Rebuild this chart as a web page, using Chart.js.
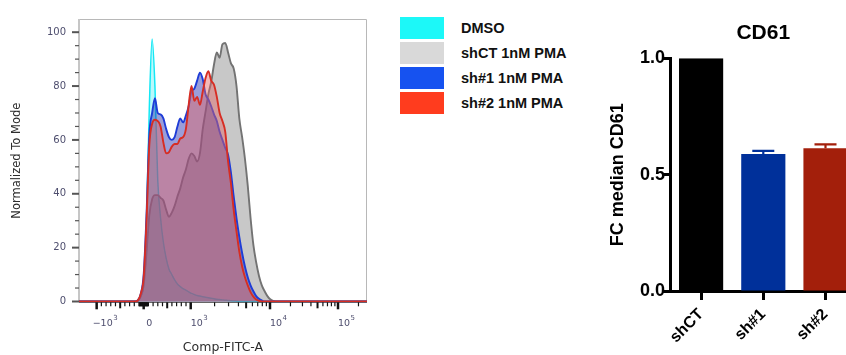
<!DOCTYPE html>
<html><head><meta charset="utf-8">
<script src="https://cdn.jsdelivr.net/npm/chart.js@4.4.0/dist/chart.umd.min.js"></script>
<style>
html,body{margin:0;padding:0;background:#fff;width:846px;height:355px;overflow:hidden;}
#histWrap{position:absolute;left:0;top:0;width:380px;height:355px;}
#barWrap{position:absolute;left:600px;top:0;width:246px;height:355px;overflow:hidden;}
#legend{position:absolute;left:400px;top:17px;font:bold 14.5px "Liberation Sans",Arial,sans-serif;color:#111;}
.item{position:relative;height:25px;width:200px;}
.sw{position:absolute;left:0;top:0;width:44px;height:22px;}
.tx{position:absolute;left:61px;top:0;line-height:22px;white-space:nowrap;}
</style></head>
<body>
<div id="histWrap"><canvas id="hist" width="380" height="355"></canvas></div>
<div id="legend"></div>
<div id="barWrap"><canvas id="bar" width="324" height="355"></canvas></div>
<script>
// ---------- histogram data (x in display channels 0..1024, y = % of mode) ----------
const histChannels = [0,200,210,220,230,240,250,260,270,280,290,300,310,320,330,340,350,360,370,380,390,400,410,420,430,440,450,460,470,480,490,500,510,520,530,540,550,560,570,580,590,600,610,620,630,640,650,660,670,680,690,700,1024];
const dmso = [0,0,0.3,2,7,30,72,97.5,80,45,31,22,16,12,10,8,6.5,5.5,4.8,4.2,3.6,3,2.6,2.2,2,1.8,1.6,1.4,1.2,1,0.8,0.7,0.6,0.5,0.4,0.3,0.2,0.1,0,0,0,0,0,0,0,0,0,0,0,0,0,0,0];
const shCT = [0,0,0.3,2,6,18,32,38,39.5,39.5,38.5,37.5,34,31.5,33,35.5,39,42,46,49,53,55,54,52,55,64,70.5,77,81.5,88,92.5,90.5,95.5,96,92.5,88.5,86.5,80,68,61,53,43,31,21,14.5,9.5,6,3.8,2,0.8,0.2,0,0];
const sh1 = [0,0,0.5,3,10,32,62,70,75.5,70,69.5,68,64,61,60,61,65,68,66.5,69,72.5,78,79,82,85,82.5,77,75,72.5,69.5,67,63,60,57,54.5,48,39,31,24,18,13,9,6,3.8,2,1,0.4,0,0,0,0,0,0];
const sh2 = [0,0,0.5,3,9,30,58,66,67.5,67,65,59,55,55.5,57.5,58.5,58.5,60.5,61,64,73,80,74.5,76,73,78,83,85.5,82,80.5,76,70,67,63,52,44,34,26,18.5,13,9,6,3.5,1.8,0.7,0.2,0,0,0,0,0,0,0];
const seriesLabels = ['DMSO','shCT 1nM PMA','sh#1 1nM PMA','sh#2 1nM PMA'];
const histYTicks = [0,20,40,60,80,100];
const histXMajor = [-1000,0,1000,10000,100000];
const histXLabels = [['\u221210','3'],['0',''],['10','3'],['10','4'],['10','5']];

// ---------- bar chart data ----------
const barLabels = ['shCT','sh#1','sh#2'];
const barMeans = [1.0,0.589,0.613];
const barErrors = [0,0.013,0.017];
const barYTicks = [0,0.5,1.0];

// ---------- styles ----------
const legendColors = ['#1cf8f8','#d9d9d9','#1652f0','#ff3c1e'];
const lineColors = ['rgb(20,232,245)','rgb(115,115,115)','rgb(30,60,215)','rgb(215,45,35)'];
const fillColors = ['rgba(40,232,242,0.32)','rgba(118,118,118,0.40)','rgba(30,40,170,0.45)','rgba(228,101,103,0.45)'];
const barColors = ['#000000','#00309a','#a31f0b'];

// logicle-like display transform: value -> channel
const AX = {neg1k:62.8, zero:230, pos1k:397.2, d4:679.1, d5:920.9};
function toChannel(v){
  if (v >= -1000 && v <= 1000) return AX.zero + v/1000*(AX.pos1k-AX.zero);
  if (v < -1000) return AX.neg1k;
  const l = Math.log10(v);
  if (l <= 4) return AX.pos1k + (l-3)*(AX.d4-AX.pos1k);
  return AX.d4 + (l-4)*(AX.d5-AX.d4);
}
function minorTicks(){
  const minor=[], medium=[];
  for (let k=1;k<10;k++){
    [k*100,-k*100].forEach(v=>(k===5?medium:minor).push(v));
    minor.push(k*10,-k*10);
    if (k>1){ (k===5?medium:minor).push(k*1000); (k===5?medium:minor).push(k*10000); }
  }
  minor.push(200000);
  return {minor, medium};
}

// legend
const lg = document.getElementById('legend');
seriesLabels.forEach((t,i)=>{
  const d=document.createElement('div'); d.className='item';
  d.innerHTML='<div class="sw" style="background:'+legendColors[i]+'"></div><div class="tx"></div>';
  d.querySelector('.tx').textContent=t; lg.appendChild(d);
});

const histAxes = {
  id:'histAxes',
  beforeDatasetsDraw(chart){
    const {ctx, chartArea:a} = chart;
    ctx.save();
    ctx.strokeStyle='#b8b8b8'; ctx.lineWidth=1;
    ctx.beginPath(); ctx.moveTo(a.left,a.top+0.5); ctx.lineTo(a.right-0.5,a.top+0.5); ctx.lineTo(a.right-0.5,a.bottom); ctx.stroke();
    ctx.strokeStyle='#c6c6c6'; ctx.lineWidth=2;
    ctx.beginPath(); ctx.moveTo(a.left,a.top); ctx.lineTo(a.left,a.bottom); ctx.stroke();
    ctx.strokeStyle='#666'; ctx.lineWidth=1.2;
    ctx.beginPath(); ctx.moveTo(a.left,a.bottom); ctx.lineTo(a.right,a.bottom); ctx.stroke();
    ctx.restore();
  },
  afterDraw(chart){
    const {ctx, chartArea:a, scales:{x,y}} = chart;
    ctx.save();
    const drawX=(vals,len,w)=>{ctx.lineWidth=w; vals.forEach(v=>{const px=x.getPixelForValue(toChannel(v)); ctx.beginPath(); ctx.moveTo(px,a.bottom); ctx.lineTo(px,a.bottom+len); ctx.stroke();});};
    ctx.strokeStyle='#111';
    const mt = minorTicks();
    drawX(mt.minor,4,1.2); drawX(mt.medium,6,2); drawX(histXMajor,7,2.5);
    // y ticks
    ctx.strokeStyle='#555';
    for (let v=0; v<=100; v+=5){
      const py=y.getPixelForValue(v); const major = v%20===0;
      ctx.lineWidth = major?2:1.2;
      ctx.beginPath(); ctx.moveTo(a.left-(major?7:4),py); ctx.lineTo(a.left,py); ctx.stroke();
    }
    // x tick labels with superscripts
    ctx.fillStyle='#4e4e6e'; ctx.textBaseline='middle'; ctx.textAlign='left';
    histXMajor.forEach((v,i)=>{
      const [base,sup]=histXLabels[i];
      const px=x.getPixelForValue(toChannel(v));
      ctx.font='9.5px "DejaVu Sans"'; const wb=ctx.measureText(base).width;
      ctx.font='7px "DejaVu Sans"'; const ws=sup?ctx.measureText(sup).width+0.5:0;
      const cx = px + (sup?8.5:5.5); const left = cx-(wb+ws)/2;
      ctx.font='9.5px "DejaVu Sans"'; ctx.fillText(base,left,324);
      if (sup){ctx.font='7px "DejaVu Sans"'; ctx.fillText(sup,left+wb+0.5,318);}
    });
    ctx.restore();
  }
};

new Chart(document.getElementById('hist'),{
  type:'line',
  data:{datasets:[dmso,shCT,sh1,sh2].map((d,i)=>({
    label:seriesLabels[i], data:d.map((v,j)=>({x:histChannels[j],y:v})),
    order:4-i, fill:'origin', borderColor:lineColors[i], backgroundColor:fillColors[i],
    borderWidth: i===0?1.5:1.9, pointRadius:0, cubicInterpolationMode:'monotone'
  }))},
  options:{
    responsive:false, animation:false, events:[],
    layout:{padding:{left:0,right:13,top:13,bottom:0}},
    plugins:{legend:{display:false},tooltip:{enabled:false}},
    scales:{
      x:{type:'linear',min:0,max:1024,ticks:{display:false},grid:{display:false,drawTicks:false},border:{display:false},
         title:{display:true,text:'Comp-FITC-A',font:{family:'DejaVu Sans',size:12.5},color:'#2e2e2e',padding:0},
         afterFit(s){s.height=52.7;}},
      y:{min:-0.3,max:104.9,afterBuildTicks(s){s.ticks=histYTicks.map(v=>({value:v}));},
         ticks:{font:{family:'DejaVu Sans',size:10},color:'#4e4e6e',padding:13},
         grid:{display:false,drawTicks:false},border:{display:false},
         title:{display:true,text:'Normalized To Mode',font:{family:'DejaVu Sans',size:11.5},color:'#2e2e2e',padding:{top:10,bottom:0}},
         afterFit(s){s.width=79;}}
    }
  },
  plugins:[histAxes]
});

const errorBars = {
  id:'errorBars',
  afterDatasetsDraw(chart){
    const {ctx, scales:{y}} = chart; const meta = chart.getDatasetMeta(0);
    ctx.save(); ctx.lineWidth=2.2;
    meta.data.forEach((bar,i)=>{
      if(!barErrors[i]) return;
      const y0=y.getPixelForValue(barMeans[i]), y1=y.getPixelForValue(barMeans[i]+barErrors[i]);
      ctx.strokeStyle=barColors[i];
      ctx.beginPath(); ctx.moveTo(bar.x,y0); ctx.lineTo(bar.x,y1); ctx.moveTo(bar.x-11,y1); ctx.lineTo(bar.x+11,y1); ctx.stroke();
    });
    ctx.restore();
  }
};

const boldFont = (size)=>({family:'Liberation Sans',size:size,weight:'bold'});
new Chart(document.getElementById('bar'),{
  type:'bar',
  data:{labels:barLabels,datasets:[{data:barMeans,backgroundColor:barColors,borderWidth:0,categoryPercentage:1,barPercentage:0.71}]},
  options:{
    responsive:false, animation:false, events:[],
    layout:{padding:{left:0,right:67.4,top:0,bottom:0}},
    plugins:{legend:{display:false},tooltip:{enabled:false},
      title:{display:true,fullSize:false,text:'CD61',color:'#000',font:boldFont(21),padding:{top:20.4,bottom:12.7}}},
    scales:{
      x:{grid:{display:true,drawOnChartArea:false,offset:false,tickLength:9,tickWidth:3,tickColor:'#000'},
         border:{color:'#000',width:3},
         ticks:{color:'#000',font:boldFont(16),minRotation:45,maxRotation:45,padding:5},
         afterFit(s){s.height=64;}},
      y:{min:0,max:1,afterBuildTicks(s){s.ticks=barYTicks.map(v=>({value:v}));},
         ticks:{color:'#000',font:boldFont(18),padding:-3,callback:v=>Number(v).toFixed(1)},
         grid:{display:true,drawOnChartArea:false,tickLength:8,tickWidth:3,tickColor:'#000'},
         border:{color:'#000',width:3},
         title:{display:true,text:'FC median CD61',color:'#000',font:boldFont(18),padding:{top:7}},
         afterFit(s){s.width=70;}}
    }
  },
  plugins:[errorBars]
});
</script>
</body></html>
